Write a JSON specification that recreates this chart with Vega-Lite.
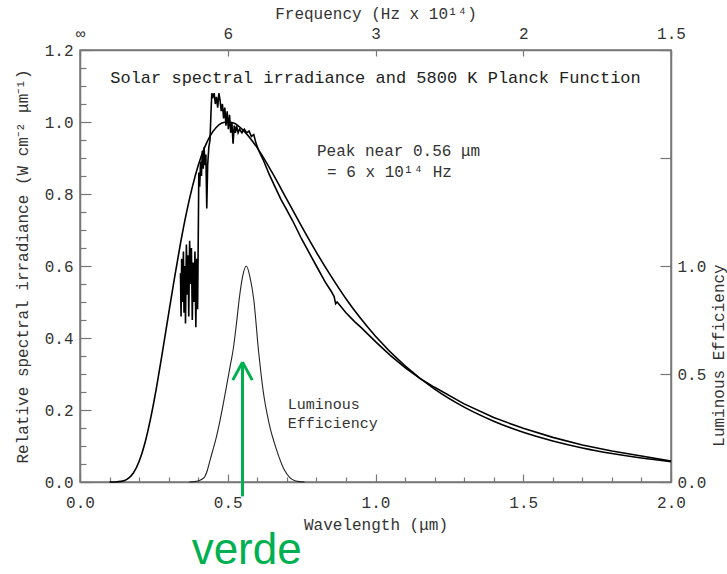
{
  "$schema": "https://vega.github.io/schema/vega-lite/v6.json",
  "width": 591,
  "height": 432,
  "autosize": {"type": "none"},
  "padding": {"left": 80, "top": 50, "right": 56, "bottom": 92},
  "background": "white",
  "config": {
    "view": {"stroke": "#777", "strokeWidth": 1.5},
    "font": "Liberation Mono",
    "axis": {
      "labelFont": "Liberation Mono", "titleFont": "Liberation Mono",
      "labelColor": "#333", "titleColor": "#333",
      "labelFontSize": 16, "titleFontSize": 16, "titleFontWeight": "normal",
      "domainColor": "#777", "domainWidth": 1.5, "tickColor": "#777", "tickWidth": 1.2,
      "grid": false, "labelOverlap": false, "labelFlush": false, "labelBound": false
    }
  },
  "datasets": {
    "planck": [
      {"lam":0.10,"irr":0.0},{"lam":0.12,"irr":0.0002},{"lam":0.14,"irr":0.0017},{"lam":0.16,"irr":0.0078},{"lam":0.18,"irr":0.0243},
      {"lam":0.20,"irr":0.0568},{"lam":0.22,"irr":0.109},{"lam":0.24,"irr":0.181},{"lam":0.26,"irr":0.268},{"lam":0.28,"irr":0.366},
      {"lam":0.30,"irr":0.468},{"lam":0.32,"irr":0.568},{"lam":0.34,"irr":0.6625},{"lam":0.36,"irr":0.747},{"lam":0.38,"irr":0.819},
      {"lam":0.40,"irr":0.879},{"lam":0.42,"irr":0.926},{"lam":0.44,"irr":0.961},{"lam":0.46,"irr":0.984},{"lam":0.48,"irr":0.997},
      {"lam":0.50,"irr":1.0},{"lam":0.52,"irr":0.997},{"lam":0.55,"irr":0.979},{"lam":0.60,"irr":0.928},{"lam":0.65,"irr":0.860},
      {"lam":0.70,"irr":0.785},{"lam":0.75,"irr":0.710},{"lam":0.80,"irr":0.638},{"lam":0.85,"irr":0.571},{"lam":0.90,"irr":0.509},
      {"lam":0.95,"irr":0.454},{"lam":1.0,"irr":0.405},{"lam":1.1,"irr":0.3225},{"lam":1.2,"irr":0.258},{"lam":1.3,"irr":0.208},
      {"lam":1.4,"irr":0.169},{"lam":1.5,"irr":0.138},{"lam":1.6,"irr":0.114},{"lam":1.7,"irr":0.0946},{"lam":1.8,"irr":0.0791},
      {"lam":1.9,"irr":0.0666},{"lam":2.0,"irr":0.0565}
    ],
    "solar": [
      {"lam":0.340,"irr":0.58},{"lam":0.342,"irr":0.46},{"lam":0.344,"irr":0.62},{"lam":0.347,"irr":0.50},{"lam":0.350,"irr":0.64},
      {"lam":0.352,"irr":0.47},{"lam":0.355,"irr":0.60},{"lam":0.357,"irr":0.44},{"lam":0.360,"irr":0.66},{"lam":0.363,"irr":0.52},
      {"lam":0.366,"irr":0.63},{"lam":0.368,"irr":0.46},{"lam":0.371,"irr":0.67},{"lam":0.374,"irr":0.55},{"lam":0.377,"irr":0.65},
      {"lam":0.380,"irr":0.45},{"lam":0.383,"irr":0.61},{"lam":0.386,"irr":0.50},{"lam":0.389,"irr":0.64},{"lam":0.392,"irr":0.43},
      {"lam":0.395,"irr":0.62},{"lam":0.398,"irr":0.48},{"lam":0.400,"irr":0.66},
      {"lam":0.402,"irr":0.86},{"lam":0.405,"irr":0.82},{"lam":0.408,"irr":0.89},{"lam":0.411,"irr":0.85},{"lam":0.414,"irr":0.92},
      {"lam":0.417,"irr":0.87},{"lam":0.420,"irr":0.93},{"lam":0.423,"irr":0.88},{"lam":0.426,"irr":0.91},{"lam":0.429,"irr":0.76},
      {"lam":0.432,"irr":0.88},{"lam":0.436,"irr":0.93},{"lam":0.440,"irr":0.95},{"lam":0.443,"irr":1.02},{"lam":0.446,"irr":1.08},
      {"lam":0.450,"irr":1.07},{"lam":0.454,"irr":1.08},{"lam":0.458,"irr":1.05},{"lam":0.462,"irr":1.07},{"lam":0.466,"irr":1.04},
      {"lam":0.470,"irr":1.08},{"lam":0.474,"irr":1.06},{"lam":0.478,"irr":1.03},{"lam":0.482,"irr":1.05},{"lam":0.486,"irr":1.01},
      {"lam":0.490,"irr":1.04},{"lam":0.494,"irr":0.99},{"lam":0.498,"irr":1.03},{"lam":0.502,"irr":0.98},{"lam":0.506,"irr":1.02},
      {"lam":0.510,"irr":0.97},{"lam":0.514,"irr":1.00},{"lam":0.518,"irr":0.94},{"lam":0.522,"irr":0.99},{"lam":0.526,"irr":0.97},
      {"lam":0.530,"irr":0.99},{"lam":0.535,"irr":0.97},{"lam":0.540,"irr":0.98},{"lam":0.548,"irr":0.97},{"lam":0.556,"irr":0.98},
      {"lam":0.564,"irr":0.97},{"lam":0.572,"irr":0.975},{"lam":0.580,"irr":0.96},{"lam":0.588,"irr":0.965},{"lam":0.596,"irr":0.94},
      {"lam":0.605,"irr":0.92},{"lam":0.62,"irr":0.895},{"lam":0.64,"irr":0.855},{"lam":0.66,"irr":0.82},{"lam":0.68,"irr":0.785},
      {"lam":0.70,"irr":0.755},{"lam":0.72,"irr":0.725},{"lam":0.75,"irr":0.675},{"lam":0.80,"irr":0.60},{"lam":0.83,"irr":0.555},
      {"lam":0.85,"irr":0.53},{"lam":0.86,"irr":0.515},{"lam":0.865,"irr":0.495},{"lam":0.87,"irr":0.50},{"lam":0.88,"irr":0.49},
      {"lam":0.90,"irr":0.47},{"lam":0.93,"irr":0.445},{"lam":0.95,"irr":0.43},{"lam":1.00,"irr":0.39},{"lam":1.05,"irr":0.352},
      {"lam":1.10,"irr":0.318},{"lam":1.15,"irr":0.288},{"lam":1.20,"irr":0.263},{"lam":1.30,"irr":0.217},{"lam":1.40,"irr":0.179},
      {"lam":1.50,"irr":0.149},{"lam":1.60,"irr":0.124},{"lam":1.70,"irr":0.103},{"lam":1.80,"irr":0.086},{"lam":1.90,"irr":0.072},
      {"lam":2.00,"irr":0.058}
    ],
    "lum": [
      {"lam":0.37,"lum":0.0},{"lam":0.40,"lum":0.005},{"lam":0.42,"lum":0.02},{"lam":0.43,"lum":0.05},{"lam":0.44,"lum":0.10},
      {"lam":0.45,"lum":0.15},{"lam":0.46,"lum":0.20},{"lam":0.47,"lum":0.26},{"lam":0.49,"lum":0.40},{"lam":0.51,"lum":0.55},
      {"lam":0.518,"lum":0.61},{"lam":0.53,"lum":0.74},{"lam":0.54,"lum":0.86},{"lam":0.55,"lum":0.95},{"lam":0.563,"lum":1.0},
      {"lam":0.575,"lum":0.95},{"lam":0.588,"lum":0.845},{"lam":0.604,"lum":0.61},{"lam":0.62,"lum":0.42},{"lam":0.64,"lum":0.27},
      {"lam":0.665,"lum":0.15},{"lam":0.69,"lum":0.06},{"lam":0.71,"lum":0.02},{"lam":0.73,"lum":0.005},{"lam":0.76,"lum":0.0}
    ],
    "title": [{"lam":1.0,"irr":1.122,"txt":"Solar spectral irradiance and 5800 K Planck Function"}],
    "notes": [
      {"lam":0.802,"irr":0.919,"txt":"Peak near 0.56 μm"},
      {"lam":0.836,"irr":0.861,"txt":"= 6 x 10¹⁴ Hz"}
    ],
    "lumnote": [
      {"lam":0.703,"irr":0.216,"txt":"Luminous"},
      {"lam":0.703,"irr":0.163,"txt":"Efficiency"}
    ],
    "arrow": [
      {"lam":0.55,"irr":0.333,"lam2":0.55,"irr2":-0.04},
      {"lam":0.55,"irr":0.333,"lam2":0.517,"irr2":0.283},
      {"lam":0.55,"irr":0.333,"lam2":0.583,"irr2":0.283}
    ],
    "verde": [{"lam":0.564,"irr":-0.228,"txt":"verde"}]
  },
  "layer": [
    {
      "layer": [
        {
          "data": {"name": "solar"},
          "mark": {"type": "line", "color": "black", "strokeWidth": 1.6},
          "encoding": {
            "x": {"field": "lam", "type": "quantitative", "scale": {"domain": [0, 2], "nice": false},
              "axis": {"orient": "bottom", "title": "Wavelength (μm)", "tickCount": 100,
                "values": [0,0.1,0.2,0.3,0.4,0.5,0.6,0.7,0.8,0.9,1.0,1.1,1.2,1.3,1.4,1.5,1.6,1.7,1.8,1.9,2.0],
                "labelExpr": "abs(datum.value*2 - round(datum.value*2)) < 0.001 ? format(datum.value, '.1f') : ''",
                "tickSize": {"condition": {"test": "abs(datum.value*2 - round(datum.value*2)) < 0.001", "value": -8}, "value": -5},
                "labelOverlap": false, "labelPadding": 20, "titlePadding": 3}},
            "y": {"field": "irr", "type": "quantitative", "scale": {"domain": [0, 1.2], "nice": false},
              "axis": {"orient": "left", "title": "Relative spectral irradiance (W cm⁻² μm⁻¹)", "tickCount": 100,
                "values": [0,0.05,0.1,0.15,0.2,0.25,0.3,0.35,0.4,0.45,0.5,0.55,0.6,0.65,0.7,0.75,0.8,0.85,0.9,0.95,1.0,1.05,1.1,1.15,1.2],
                "labelExpr": "abs(datum.value*5 - round(datum.value*5)) < 0.001 ? format(datum.value, '.1f') : ''",
                "tickSize": {"condition": {"test": "abs(datum.value*5 - round(datum.value*5)) < 0.001", "value": -11}, "value": -6},
                "labelOverlap": false, "labelPadding": 18, "titlePadding": 14}}
          }
        },
        {
          "data": {"name": "planck"},
          "mark": {"type": "line", "color": "black", "strokeWidth": 1.6, "interpolate": "monotone"},
          "encoding": {
            "x": {"field": "lam", "type": "quantitative", "scale": {"domain": [0, 2], "nice": false}},
            "y": {"field": "irr", "type": "quantitative", "scale": {"domain": [0, 1.2], "nice": false}}
          }
        },
        {
          "data": {"name": "title"},
          "mark": {"type": "text", "font": "Liberation Mono", "fontSize": 17, "color": "#222", "align": "center", "baseline": "middle"},
          "encoding": {
            "x": {"field": "lam", "type": "quantitative", "scale": {"domain": [0, 2], "nice": false}},
            "y": {"field": "irr", "type": "quantitative", "scale": {"domain": [0, 1.2], "nice": false}},
            "text": {"field": "txt"}
          }
        },
        {
          "data": {"name": "notes"},
          "mark": {"type": "text", "font": "Liberation Mono", "fontSize": 16, "color": "#333", "align": "left", "baseline": "middle"},
          "encoding": {
            "x": {"field": "lam", "type": "quantitative", "scale": {"domain": [0, 2], "nice": false}},
            "y": {"field": "irr", "type": "quantitative", "scale": {"domain": [0, 1.2], "nice": false}},
            "text": {"field": "txt"}
          }
        },
        {
          "data": {"name": "lumnote"},
          "mark": {"type": "text", "font": "Liberation Mono", "fontSize": 15, "color": "#333", "align": "left", "baseline": "middle"},
          "encoding": {
            "x": {"field": "lam", "type": "quantitative", "scale": {"domain": [0, 2], "nice": false}},
            "y": {"field": "irr", "type": "quantitative", "scale": {"domain": [0, 1.2], "nice": false}},
            "text": {"field": "txt"}
          }
        },
        {
          "data": {"name": "arrow"},
          "mark": {"type": "rule", "color": "#00B050", "strokeWidth": 3, "strokeCap": "butt"},
          "encoding": {
            "x": {"field": "lam", "type": "quantitative", "scale": {"domain": [0, 2], "nice": false}},
            "y": {"field": "irr", "type": "quantitative", "scale": {"domain": [0, 1.2], "nice": false}},
            "x2": {"field": "lam2"},
            "y2": {"field": "irr2"}
          }
        },
        {
          "data": {"name": "verde"},
          "mark": {"type": "text", "font": "Liberation Sans", "fontSize": 44, "color": "#00B050", "align": "center", "baseline": "alphabetic"},
          "encoding": {
            "x": {"field": "lam", "type": "quantitative", "scale": {"domain": [0, 2], "nice": false}},
            "y": {"field": "irr", "type": "quantitative", "scale": {"domain": [0, 1.2], "nice": false}},
            "text": {"field": "txt"}
          }
        }
      ]
    },
    {
      "data": {"name": "lum"},
      "mark": {"type": "line", "color": "#222", "strokeWidth": 1.1, "interpolate": "monotone"},
      "encoding": {
        "x": {"field": "lam", "type": "quantitative", "scale": {"domain": [0, 2], "nice": false},
          "axis": {"orient": "top", "title": "Frequency (Hz x 10¹⁴)", "values": [0, 0.5, 1, 1.5, 2], "tickCount": 100,
            "labelExpr": "datum.value == 0 ? '∞' : datum.value == 0.5 ? '6' : datum.value == 1 ? '3' : datum.value == 1.5 ? '2' : '1.5'",
            "tickSize": -6, "labelPadding": 15, "titlePadding": 4}},
        "y": {"field": "lum", "type": "quantitative", "scale": {"domain": [0, 2], "nice": false},
          "axis": {"orient": "right", "title": "Luminous Efficiency", "values": [0, 0.5, 1, 1.5, 2], "tickCount": 100,
            "labelExpr": "datum.value <= 1 ? format(datum.value, '.1f') : ''",
            "tickSize": -11, "labelPadding": 17, "titleFontSize": 16,
            "titleAngle": -90, "titleX": 47, "titleY": 305, "titleAlign": "center", "titleBaseline": "middle"}}
      }
    }
  ],
  "resolve": {"scale": {"y": "independent"}, "axis": {"x": "independent"}}
}
